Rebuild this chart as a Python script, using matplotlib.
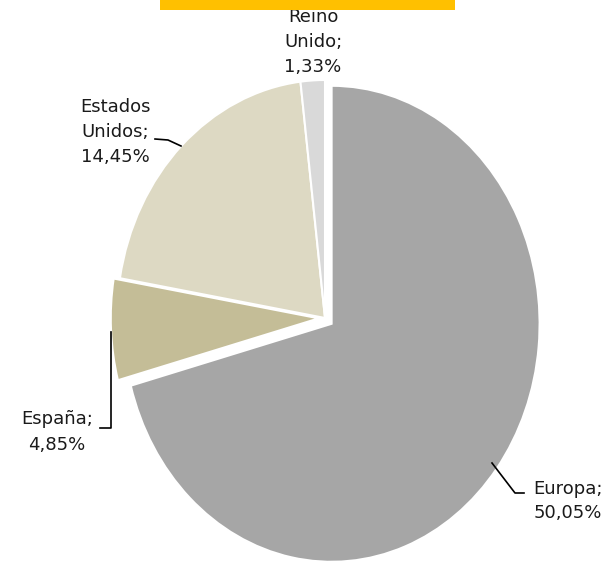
import numpy as np
import matplotlib.pyplot as plt
from matplotlib.patches import Rectangle

# data (share of total, %)
regions = ['Europa', 'España', 'Estados\nUnidos', 'Reino\nUnido']
shares = [50.05, 4.85, 14.45, 1.33]
colors = ['#A6A6A6', '#C4BD97', '#DDD9C3', '#D9D9D9']
explode = [0.04, 0.03, 0, 0]

W, H = 606, 563
cx, cy = 325, 318      # pie centre in pixels (from top-left)
rx, ry = 208, 238      # the pie is drawn stretched vertically

fig = plt.figure(figsize=(W / 100, H / 100), dpi=100)
ax = fig.add_axes([0, 0, 1, 1])

ax.pie(shares, colors=colors, startangle=90, counterclock=False,
       explode=explode, wedgeprops={'edgecolor': 'white', 'linewidth': 1.5})
ax.set_aspect('auto')
ax.set_xlim(-cx / rx, (W - cx) / rx)
ax.set_ylim(-(H - cy) / ry, cy / ry)
ax.axis('off')


def px(x, y):
    # pixel position -> data coords
    return (x - cx) / rx, (cy - y) / ry


labels = [r + ';\n' + f'{v:.2f}'.replace('.', ',') + '%' for r, v in zip(regions, shares)]
label_pos = [(568, 501), (57, 432), (115, 132), (313, 42)]
for lab, (x, y) in zip(labels, label_pos):
    tx, ty = px(x, y)
    ax.text(tx, ty, lab, ha='center', va='center', fontsize=13,
            color='#1a1a1a', linespacing=1.5, family='DejaVu Sans')

# leader lines
leaders = [
    [(492, 463), (515, 493), (524, 493)],
    [(100, 428), (111, 428), (111, 332)],
    [(155, 139), (168, 140), (181, 146)],
]
for pts in leaders:
    xy = np.array([px(x, y) for x, y in pts])
    ax.plot(xy[:, 0], xy[:, 1], color='black', lw=1.2)

# orange title bar cut off at the top
fig.patches.append(Rectangle((160 / W, 1 - 10 / H), 295 / W, 10 / H,
                             transform=fig.transFigure, facecolor='#FFC000',
                             edgecolor='none'))

fig.savefig('out.png', dpi=100)
